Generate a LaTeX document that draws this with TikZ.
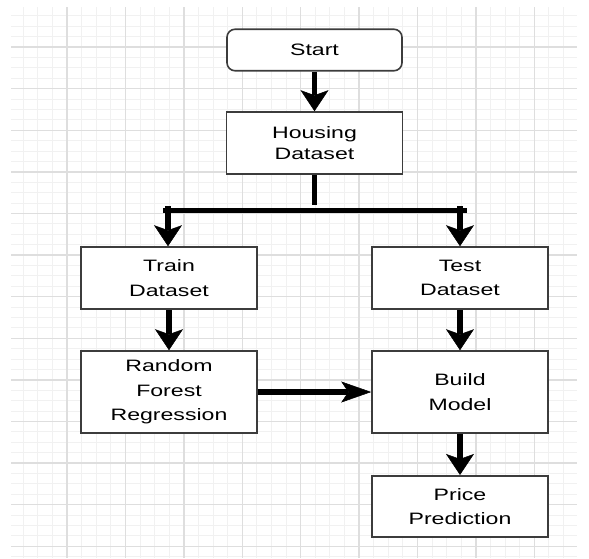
\documentclass[tikz,border=0pt]{standalone}
\usepackage{fontspec}
\setmainfont{Liberation Sans}[FakeStretch=1.4]
\usetikzlibrary{arrows.meta,positioning}
\definecolor{gridmajor}{RGB}{222,222,222}
\definecolor{gridminor}{RGB}{241,241,241}
\definecolor{boxline}{RGB}{60,60,60}

\begin{document}
\begin{tikzpicture}[x=1pt,y=-1pt,
    box/.style={draw=boxline,line width=1.6pt,fill=white,minimum width=176pt,minimum height=62pt,
        inner sep=0pt,align=center,font=\fontsize{16.5}{24.5}\selectfont},
    startbox/.style={box,rounded corners=8pt,minimum width=175pt,minimum height=41.5pt},
    arr/.style={line width=5.5pt,-{Stealth[length=21pt,width=28pt,inset=5pt,line width=0.5pt]}},
    arrh/.style={line width=5.5pt,-{Stealth[length=30pt,width=21pt,inset=7pt,line width=0.5pt]}}]
        \useasboundingbox (0,0) rectangle (589,558);
        % grid
        \fill[white] (11,7) rectangle (577,558);
        \foreach \i in {1,...,38} \draw[gridminor,line width=1pt] (8.6+14.6*\i,7) -- (8.6+14.6*\i,558);
        \foreach \j in {1,...,53} \draw[gridminor,line width=1pt] (11,5.4+10.4*\j) -- (577,5.4+10.4*\j);
        \foreach \i in {1,...,9} \draw[gridmajor,line width=1.4pt] (8.6+58.4*\i,7) -- (8.6+58.4*\i,558);
        \foreach \j in {1,...,13} \draw[gridmajor,line width=1.4pt] (11,5.4+41.6*\j) -- (577,5.4+41.6*\j);
        % boxes
        \node[startbox] (start) at (314.5,50) {Start};
        \node[box,font=\fontsize{16.5}{20.5}\selectfont] (housing) at (314.5,143) {Housing\\Dataset};
        \node[box] (train) at (169,278) {Train\\Dataset};
        \node[box] (test) at (460,278) {Test\\Dataset};
        \node[box,minimum height=82pt] (forest) at (169,392) {Random\\Forest\\Regression};
        \node[box,minimum height=82pt] (build) at (460,392) {Build\\Model};
        \node[box,minimum height=61.5pt] (price) at (460,506.5) {Price\\Prediction};
        % connectors
        \coordinate (split) at (314,205);
        \coordinate (barl) at (163,210.7);
        \coordinate (barr) at (467,210.7);
        \coordinate (tl) at (168,206);
        \coordinate (tr) at (460,206);
        \draw[arr] (start) -- (housing);
        \draw[line width=5.5pt] (housing.south) -- (housing.south |- split);
        \draw[line width=5pt] (barl) -- (barr);
        \draw[arr] (tl) -- (tl |- train.north);
        \draw[arr] (tr) -- (tr |- test.north);
        \draw[arr] (train) -- (forest);
        \draw[arr] (test) -- (build);
        \draw[arr] (build) -- (price);
        \draw[arrh] (forest) -- (build);
    \end{tikzpicture}
\end{document}
